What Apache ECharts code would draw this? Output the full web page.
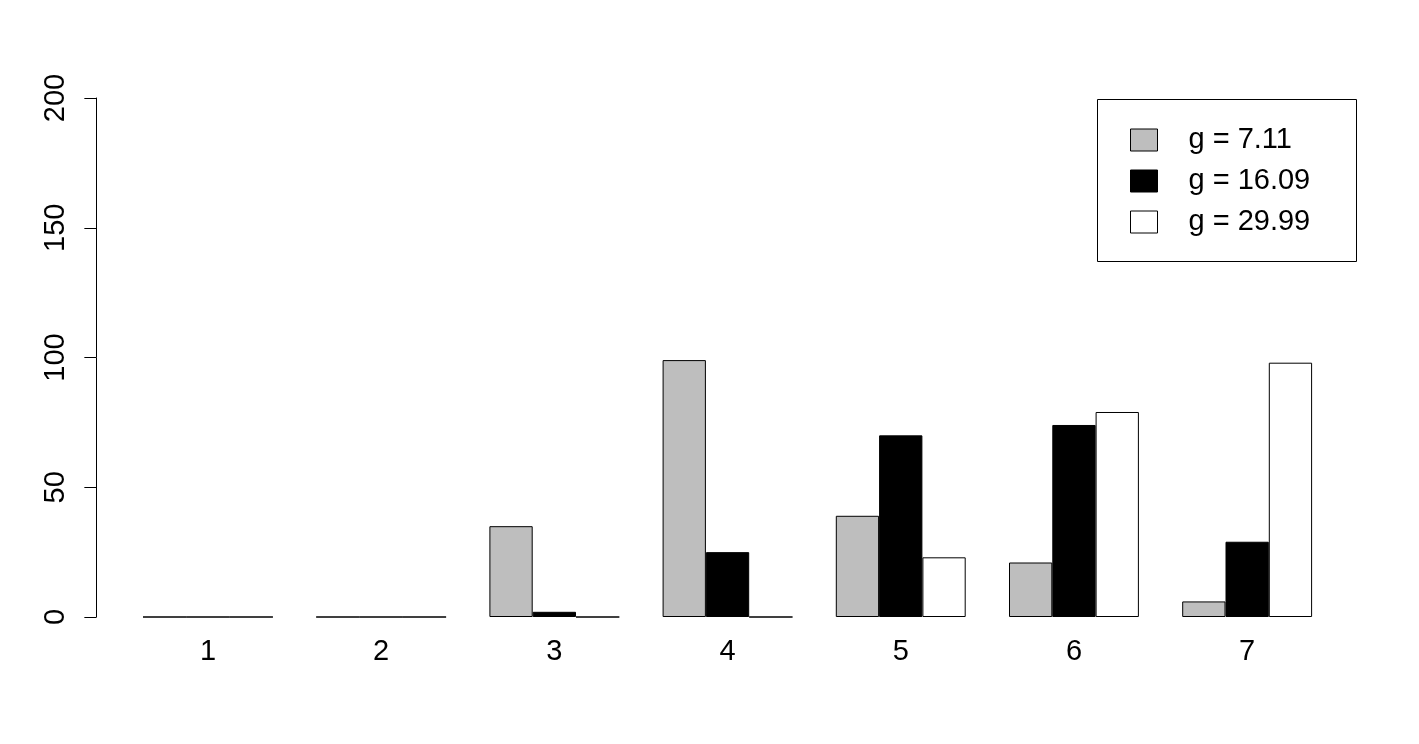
<!DOCTYPE html>
<html>
<head>
<meta charset="utf-8">
<script src="https://cdn.jsdelivr.net/npm/echarts@6/dist/echarts.min.js"></script>
<style>html,body{margin:0;padding:0;background:#fff;}#c{width:1419px;height:744px;}</style>
</head>
<body>
<div id="c"></div>
<script>
const categories = ['1','2','3','4','5','6','7'];
const seriesNames = ['g = 7.11','g = 16.09','g = 29.99'];
const valuesG711 = [0, 0, 35, 99, 39, 21, 6];
const valuesG1609 = [0, 0, 2, 25, 70, 74, 29];
const valuesG2999 = [0, 0, 0, 0, 23, 79, 98];
const yTicks = [0, 50, 100, 150, 200];

const colors = ['#BEBEBE', '#000000', '#FFFFFF'];
const FONT = 'Liberation Sans, Arial, sans-serif';
const chart = echarts.init(document.getElementById('c'), null, {renderer: 'canvas'});
const allVals = [valuesG711, valuesG1609, valuesG2999];
chart.setOption({
  animation: false,
  backgroundColor: '#fff',
  grid: {left: 121.35, right: 85.25, top: 98, bottom: 127, containLabel: false},
  xAxis: {
    type: 'category',
    data: categories,
    axisLine: {show: false},
    axisTick: {show: false},
    axisLabel: {fontFamily: FONT, fontSize: 29, color: '#000', margin: 20}
  },
  yAxis: {
    type: 'value',
    min: yTicks[0], max: yTicks[yTicks.length - 1], interval: 50,
    offset: 25,
    splitLine: {show: false},
    axisLine: {show: true, lineStyle: {color: '#000', width: 1}},
    axisTick: {show: true, length: 12, lineStyle: {color: '#000', width: 1}},
    axisLabel: {fontFamily: FONT, fontSize: 29, color: '#000', rotate: 90, margin: 26}
  },
  legend: {
    show: true,
    orient: 'vertical',
    left: 1130, top: 125.5,
    itemWidth: 27, itemHeight: 22, itemGap: 12,
    icon: 'rect',
    padding: 0,
    textStyle: {fontFamily: FONT, fontSize: 29, color: '#000', padding: [0, 0, 0, 26]},
    data: seriesNames.map((n, i) => ({name: n, itemStyle: {color: colors[i], borderColor: '#000', borderWidth: 1}}))
  },
  graphic: [{
    type: 'rect',
    shape: {x: 1097.5, y: 99.5, width: 259, height: 162},
    style: {fill: 'none', stroke: '#000', lineWidth: 1},
    silent: true
  }],
  series: seriesNames.map((n, i) => ({
    name: n,
    type: 'bar',
    data: allVals[i],
    barGap: '0%',
    barCategoryGap: '25%',
    itemStyle: {color: colors[i], borderColor: '#000', borderWidth: 1},
    emphasis: {disabled: true}
  }))
});
</script>
</body>
</html>
